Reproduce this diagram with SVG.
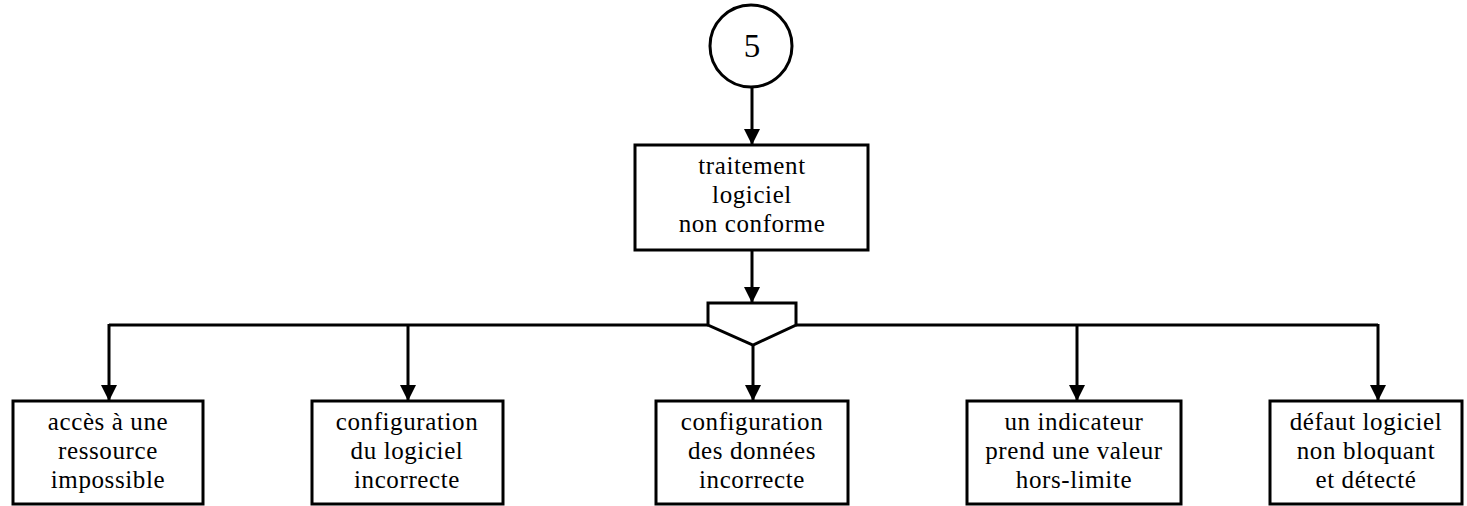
<svg xmlns="http://www.w3.org/2000/svg" width="1467" height="506" viewBox="0 0 1467 506">
  <style>
    .box { fill: #fff; stroke: #000; stroke-width: 3; }
    .wire { fill: none; stroke: #000; stroke-width: 3; }
    .lbl { font-family: "Liberation Serif", "Times New Roman", serif; font-size: 25px; letter-spacing: 0.6px; fill: #000; text-anchor: middle; }
    .num { font-family: "Liberation Serif", "Times New Roman", serif; font-size: 33px; fill: #000; text-anchor: middle; }
  </style>
  <defs>
    <marker id="head" viewBox="0 0 16 16" refX="16" refY="8" markerWidth="16" markerHeight="16" markerUnits="userSpaceOnUse" orient="auto">
      <path d="M0,0 L16,8 L0,16 Z" fill="#000"/>
    </marker>
  </defs>
  <rect width="1467" height="506" fill="#fff"/>

  <!-- connectors -->
  <g id="connectors">
    <line class="wire" x1="752" y1="88" x2="752" y2="145" marker-end="url(#head)"/>
    <line class="wire" x1="752" y1="250" x2="752" y2="303" marker-end="url(#head)"/>
    <line class="wire" x1="109" y1="325" x2="708" y2="325"/>
    <line class="wire" x1="796" y1="325" x2="1378" y2="325"/>
    <line class="wire" x1="109" y1="324" x2="109" y2="401" marker-end="url(#head)"/>
    <line class="wire" x1="408" y1="325" x2="408" y2="401" marker-end="url(#head)"/>
    <line class="wire" x1="753" y1="345" x2="753" y2="401" marker-end="url(#head)"/>
    <line class="wire" x1="1077" y1="325" x2="1077" y2="401" marker-end="url(#head)"/>
    <line class="wire" x1="1378" y1="324" x2="1378" y2="401" marker-end="url(#head)"/>
  </g>

  <!-- connector 5 -->
  <g id="n-start">
    <circle class="box" cx="751" cy="46" r="41"/>
    <text class="num" x="752" y="57">5</text>
  </g>

  <g id="n-traitement">
    <rect class="box" x="635" y="145" width="233" height="105"/>
    <text class="lbl" x="752" y="174">traitement</text>
    <text class="lbl" x="752" y="203">logiciel</text>
    <text class="lbl" x="752" y="232">non conforme</text>
  </g>

  <!-- OR gate -->
  <g id="n-ou">
    <path class="box" d="M708,303 L796,303 L796,325 L753,345 L708,325 Z" stroke-linejoin="miter"/>
  </g>

  <g id="n-acces">
    <rect class="box" x="13" y="401" width="190" height="103"/>
    <text class="lbl" x="108" y="430">accès à une</text>
    <text class="lbl" x="108" y="459">ressource</text>
    <text class="lbl" x="108" y="488">impossible</text>
  </g>

  <g id="n-config-logiciel">
    <rect class="box" x="312" y="401" width="191" height="103"/>
    <text class="lbl" x="407" y="430">configuration</text>
    <text class="lbl" x="407" y="459">du logiciel</text>
    <text class="lbl" x="407" y="488">incorrecte</text>
  </g>

  <g id="n-config-donnees">
    <rect class="box" x="656" y="401" width="192" height="103"/>
    <text class="lbl" x="752" y="430">configuration</text>
    <text class="lbl" x="752" y="459">des données</text>
    <text class="lbl" x="752" y="488">incorrecte</text>
  </g>

  <g id="n-indicateur">
    <rect class="box" x="967" y="401" width="214" height="103"/>
    <text class="lbl" x="1074" y="430">un indicateur</text>
    <text class="lbl" x="1074" y="459">prend une valeur</text>
    <text class="lbl" x="1074" y="488">hors-limite</text>
  </g>

  <g id="n-defaut">
    <rect class="box" x="1270" y="401" width="192" height="103"/>
    <text class="lbl" x="1366" y="430">défaut logiciel</text>
    <text class="lbl" x="1366" y="459">non bloquant</text>
    <text class="lbl" x="1366" y="488">et détecté</text>
  </g>
</svg>
